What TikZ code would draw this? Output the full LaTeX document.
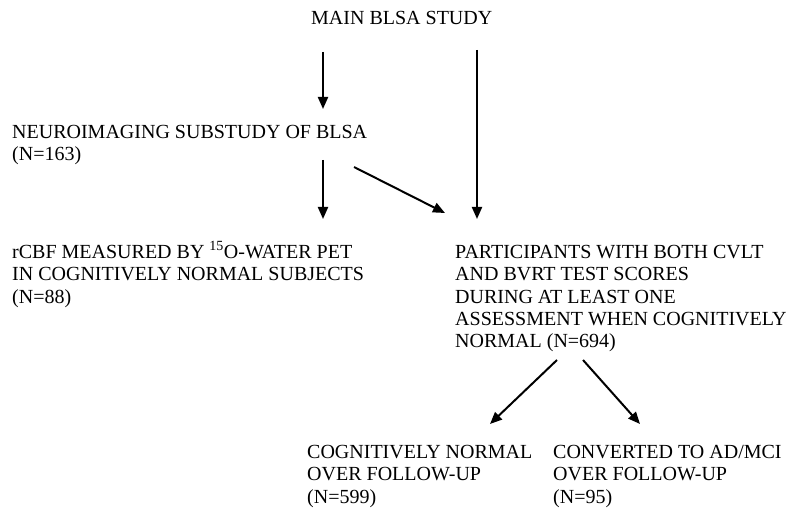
\documentclass[tikz,border=0pt]{standalone}
\usepackage{fontspec}
\setmainfont{Liberation Serif}
\usetikzlibrary{arrows.meta}
\tikzset{
    flowtext/.style={anchor=base west, inner sep=0pt, align=left,
        font=\fontsize{20}{22.3}\selectfont},
    flowarrow/.style={line width=2pt, -{Triangle[length=12pt,width=10pt]}},
}

\begin{document}
\begin{tikzpicture}[x=1pt,y=-1pt]
    \useasboundingbox (0,0) rectangle (787,510);
    % nodes sit on the baseline of their last line
    \node[flowtext] (main) at (311,24.5) {MAIN BLSA STUDY};
    \node[flowtext] (neuro) at (12,160.8) {NEUROIMAGING SUBSTUDY OF BLSA\\(N=163)};
    \node[flowtext] (rcbf) at (12,303.1) {rCBF MEASURED BY \textsuperscript{15}O-WATER PET\\IN COGNITIVELY NORMAL SUBJECTS\\(N=88)};
    \node[flowtext] (part) at (455,347.7) {PARTICIPANTS WITH BOTH CVLT\\AND BVRT TEST SCORES\\DURING AT LEAST ONE\\ASSESSMENT WHEN COGNITIVELY\\NORMAL (N=694)};
    \node[flowtext] (normal) at (307,503.1) {COGNITIVELY NORMAL\\OVER FOLLOW-UP\\(N=599)};
    \node[flowtext] (conv) at (553,503.1) {CONVERTED TO AD/MCI\\OVER FOLLOW-UP\\(N=95)};
    % arrow ends
    \coordinate (mainA) at (323,52);
    \coordinate (mainB) at (477,50);
    \coordinate (neuroIn) at (323,109);
    \coordinate (neuroA) at (323,160);
    \coordinate (neuroB) at (354,167);
    \coordinate (rcbfIn) at (323,219);
    \coordinate (partInA) at (445,213);
    \coordinate (partInB) at (477,219);
    \coordinate (partA) at (557,360);
    \coordinate (partB) at (583,360);
    \coordinate (normalIn) at (490,424);
    \coordinate (convIn) at (640,424);
    \draw[flowarrow] (mainA) -- (neuroIn);
    \draw[flowarrow] (mainB) -- (partInB);
    \draw[flowarrow] (neuroA) -- (rcbfIn);
    \draw[flowarrow] (neuroB) -- (partInA);
    \draw[flowarrow] (partA) -- (normalIn);
    \draw[flowarrow] (partB) -- (convIn);
\end{tikzpicture}
\end{document}
